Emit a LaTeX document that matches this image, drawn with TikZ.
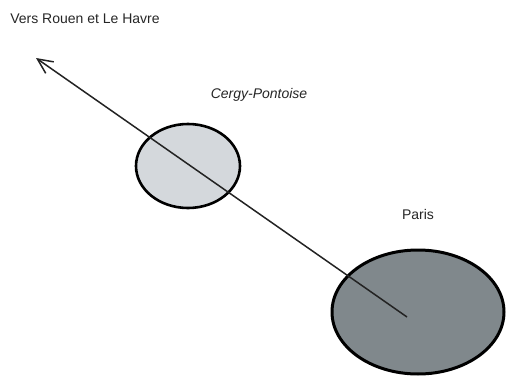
\documentclass[tikz,border=0pt]{standalone}
\usepackage{fontspec}
\setmainfont{Liberation Sans}
\usetikzlibrary{arrows.meta,shapes.geometric}
\definecolor{cergyfill}{RGB}{212,216,220}
\definecolor{parisfill}{RGB}{128,136,140}
\definecolor{arrowcol}{RGB}{35,35,35}
\tikzset{
  town/.style={ellipse, draw=black, line width=2.6pt, inner sep=0pt},
  lbl/.style={font=\fontsize{14}{16}\selectfont, text=black!85, inner sep=0pt},
  route/.style={draw=arrowcol, line width=1.5pt, -{Straight Barb[length=15pt,width=14pt,line width=1.5pt]}}
}
\begin{document}
\begin{tikzpicture}[x=1pt,y=-1pt]
\useasboundingbox (0,0) rectangle (507,378);
\node[town, fill=cergyfill, minimum width=104pt, minimum height=84pt] (cergy) at (188,166) {};
\node[town, fill=parisfill, minimum width=172pt, minimum height=124pt, line width=3pt] (paris) at (418,312) {};
\coordinate (start) at (407,317);
\coordinate (tip) at (36,58);
\draw[route] (start) -- (tip);
\node[lbl] (vers) at (85,19) {Vers Rouen et Le Havre};
\node[lbl, font=\fontsize{14}{16}\selectfont\itshape] (cergylbl) at (259,95) {Cergy-Pontoise};
\node[lbl] (parislbl) at (418,214) {Paris};
\end{tikzpicture}
\end{document}
